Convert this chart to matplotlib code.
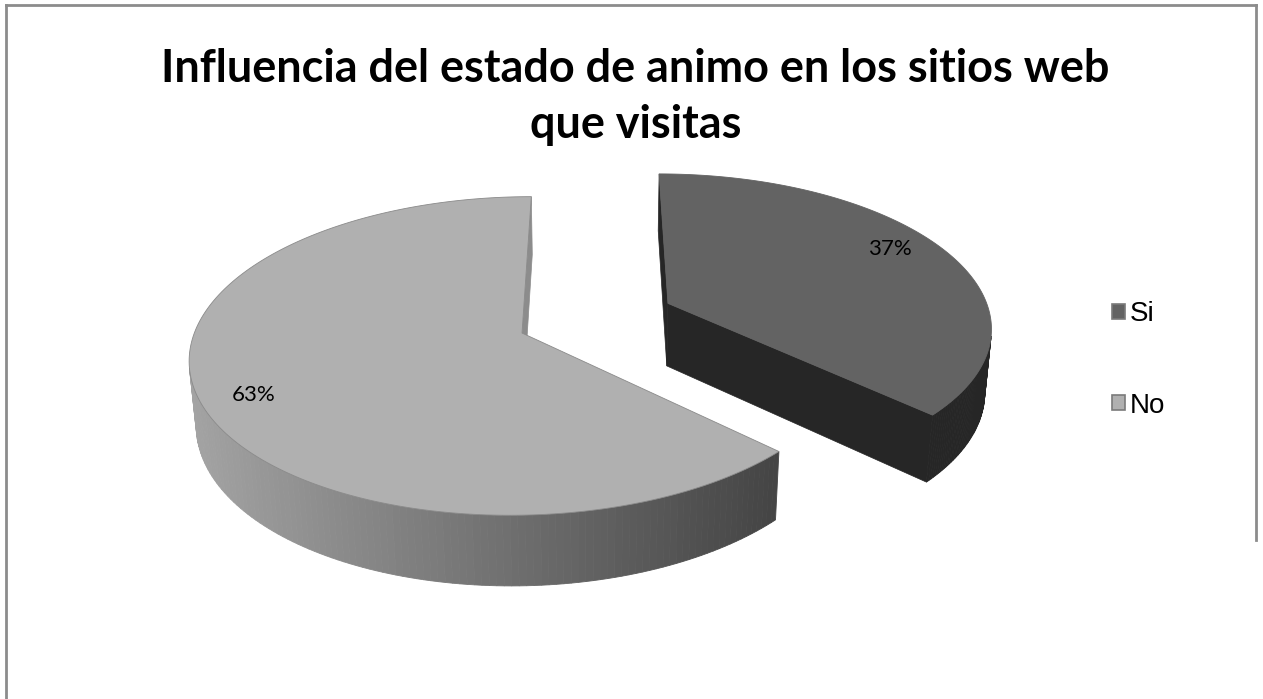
import numpy as np
import matplotlib.pyplot as plt
from matplotlib.patches import Polygon, Rectangle
from matplotlib.lines import Line2D

# data
labels = ['Si', 'No']
values = [37, 63]
top_colors = ['#636363', '#b0b0b0']
side_colors = ['#262626', '#8c8c8c']
title = 'Influencia del estado de animo en los sitios web\nque visitas'

# 3d pie look (pixel space of the figure)
W, H = 1263, 699
CX, CY = 596.0, 318.0
F = 2010.0
D = 6.22
ELEV = np.radians(28)
THICK = 0.225
EXPLODE = 0.246
label_r = [0.84, 0.85]
label_turn = [-4, -3]

cam = np.array([0.0, -D * np.cos(ELEV), D * np.sin(ELEV)])


def project(u, v, w):
    depth = D + v * np.cos(ELEV) - w * np.sin(ELEV)
    x = CX + F * u / depth
    y = CY - F * (v * np.sin(ELEV) + w * np.cos(ELEV)) / depth
    return x, y


def rim(theta, off, w):
    t = np.radians(theta)
    return project(off[0] + np.sin(t), off[1] + np.cos(t), w)


def no_side_color(x):
    # light at the left, dark at the right
    k = np.clip((x - 190) / (775 - 190), 0, 1)
    g = 0.64 - k * 0.37
    return (g, g, g)


fig = plt.figure(figsize=(W / 100, H / 100), dpi=100)
ax = fig.add_axes([0, 0, 1, 1])
ax.set_xlim(0, W)
ax.set_ylim(H, 0)
ax.axis('off')

total = float(sum(values))
starts = np.concatenate([[0], np.cumsum(values)[:-1]]) / total * 360
spans = np.array(values) / total * 360

for i in range(len(values)):
    th0, th1 = starts[i], starts[i] + spans[i]
    mid = np.radians((th0 + th1) / 2)
    off = (EXPLODE * np.sin(mid), EXPLODE * np.cos(mid))
    apex_t = project(off[0], off[1], 0)
    apex_b = project(off[0], off[1], -THICK)
    apex3 = np.array([off[0], off[1], 0.0])

    # cut faces
    for th, sgn in [(th0, -1), (th1, 1)]:
        n = np.radians(th + sgn * 90)
        normal = np.array([np.sin(n), np.cos(n), 0.0])
        if np.dot(normal, cam - apex3) > 0:
            pts = [apex_t, rim(th, off, 0), rim(th, off, -THICK), apex_b]
            ax.add_patch(Polygon(pts, closed=True, facecolor=side_colors[i],
                                 edgecolor=side_colors[i], lw=0.5, zorder=2 + 3 * i))

    # outer wall
    thetas = np.linspace(th0, th1, 200)
    for a, b in zip(thetas[:-1], thetas[1:]):
        m = np.radians((a + b) / 2)
        p = np.array([off[0] + np.sin(m), off[1] + np.cos(m), 0.0])
        normal = np.array([np.sin(m), np.cos(m), 0.0])
        if np.dot(normal, cam - p) <= 0:
            continue
        pts = [rim(a, off, 0), rim(b, off, 0), rim(b, off, -THICK), rim(a, off, -THICK)]
        if i == 0:
            col = side_colors[i]
        else:
            col = no_side_color(pts[0][0])
        ax.add_patch(Polygon(pts, closed=True, facecolor=col, edgecolor=col,
                             lw=0.6, zorder=2 + 3 * i))

    # top face
    arc = [rim(t, off, 0) for t in thetas]
    ax.add_patch(Polygon([apex_t] + arc, closed=True, facecolor=top_colors[i],
                         edgecolor='#8a8a8a' if i == 1 else top_colors[i], lw=0.6,
                         zorder=3 + 3 * i))

    # percentage label
    la = mid + np.radians(label_turn[i])
    lx, ly = project(off[0] + label_r[i] * np.sin(la),
                     off[1] + label_r[i] * np.cos(la), 0)
    ax.text(lx, ly, '{:.0f}%'.format(values[i] / total * 100), ha='center',
            va='center', fontsize=16, family='Lato', color='#000000', zorder=10)

ax.text(W / 2 + 4, 97, title, ha='center', va='center', fontsize=32.4,
        fontweight='bold', family='Lato', linespacing=1.4)

# chart frame
ax.add_line(Line2D([6, 6], [5, H], color='#8c8c8c', lw=2))
ax.add_line(Line2D([6, 1256], [5, 5], color='#8c8c8c', lw=2))
ax.add_line(Line2D([1256, 1256], [5, 540], color='#8c8c8c', lw=2))

handles = [Rectangle((0, 0), 1, 1, facecolor=c, edgecolor='#7a7a7a', lw=1.2)
           for c in top_colors]
fig.legend(handles, labels, loc='center left', bbox_to_anchor=(1112 / W, 1 - 360 / H),
           frameon=False, prop={'family': 'Liberation Sans', 'size': 20},
           handlelength=0.45, handleheight=0.45, handletextpad=0.2,
           labelspacing=2.35, borderpad=0, borderaxespad=0)

fig.savefig('out.png', dpi=100, facecolor='white')
